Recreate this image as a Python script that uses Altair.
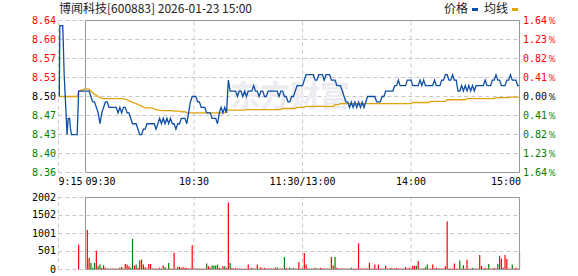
import altair as alt
import pandas as pd

# ---------------- data ----------------
TITLE = "博闻科技[600883] 2026-01-23 15:00"
LEGEND_LABELS = ["价格", "均线"]
WATERMARK = "东方财富"
PREV_CLOSE = 8.50
PCT_TICKS = [1.64, 1.23, 0.82, 0.41, 0.00, -0.41, -0.82, -1.23, -1.64]
VOL_TICKS = [0, 501, 1001, 1502, 2002]
TIME_TICKS = [-15, 0, 60, 120, 180, 240]
TIME_LABELS = ["9:15", "09:30", "10:30", "11:30/13:00", "14:00", "15:00"]
TIME_ALIGN = ["left", "left", "center", "center", "center", "right"]
GRID_MINUTES = [-15, 60, 120, 180]
SESSION = [0, 240]

# call-auction segment (minutes relative to 09:30)
PRE_MIN = [-14.5, -14.2, -12.6, -12.3, -11.8, -11.2, -10.2, -9.6, -8.8, -8.3, -7.7, -4.6, -3.8]
PRE_PRICE = [8.50, 8.63, 8.63, 8.60, 8.54, 8.50, 8.43, 8.46, 8.46, 8.44, 8.43, 8.43, 8.51]
PRE_AVG = [8.50, 8.50, 8.50, 8.50, 8.50, 8.50, 8.50, 8.50, 8.50, 8.50, 8.50, 8.50, 8.51]
PRE_VOL_MIN = [-3.8]
PRE_VOL = [685]
PRE_VOL_DIR = ["r"]

# minute prices 09:30 .. 15:00 (241 points)
PRICE = [
    8.51, 8.51, 8.51, 8.50, 8.49, 8.49, 8.48, 8.47, 8.45, 8.47,
    8.48, 8.49, 8.49, 8.48, 8.48, 8.48, 8.48, 8.48, 8.47, 8.48,
    8.47, 8.48, 8.48, 8.47, 8.47, 8.46, 8.45, 8.45, 8.45, 8.44,
    8.43, 8.43, 8.44, 8.44, 8.45, 8.45, 8.45, 8.45, 8.45, 8.44,
    8.45, 8.46, 8.45, 8.46, 8.45, 8.46, 8.45, 8.46, 8.45, 8.45,
    8.44, 8.45, 8.45, 8.46, 8.46, 8.46, 8.45, 8.47, 8.49, 8.50,
    8.50, 8.50, 8.49, 8.49, 8.48, 8.48, 8.48, 8.47, 8.47, 8.47,
    8.46, 8.46, 8.46, 8.45, 8.47, 8.48, 8.47, 8.48, 8.47, 8.53,
    8.51, 8.51, 8.51, 8.51, 8.50, 8.51, 8.51, 8.50, 8.51, 8.50,
    8.51, 8.51, 8.51, 8.52, 8.51, 8.51, 8.50, 8.51, 8.51, 8.50,
    8.50, 8.51, 8.51, 8.51, 8.51, 8.51, 8.51, 8.50, 8.51, 8.51,
    8.50, 8.50, 8.49, 8.49, 8.50, 8.50, 8.51, 8.52, 8.52, 8.52,
    8.52, 8.53, 8.54, 8.54, 8.54, 8.54, 8.54, 8.53, 8.53, 8.54,
    8.54, 8.54, 8.53, 8.54, 8.54, 8.54, 8.53, 8.53, 8.53, 8.52,
    8.52, 8.52, 8.51, 8.50, 8.49, 8.49, 8.48, 8.49, 8.48, 8.49,
    8.48, 8.49, 8.48, 8.49, 8.48, 8.49, 8.50, 8.50, 8.50, 8.50,
    8.50, 8.49, 8.49, 8.49, 8.50, 8.50, 8.51, 8.51, 8.51, 8.51,
    8.51, 8.52, 8.52, 8.53, 8.52, 8.52, 8.52, 8.52, 8.53, 8.53,
    8.53, 8.52, 8.52, 8.52, 8.52, 8.53, 8.52, 8.53, 8.52, 8.52,
    8.52, 8.52, 8.52, 8.53, 8.52, 8.52, 8.52, 8.53, 8.53, 8.54,
    8.54, 8.53, 8.53, 8.54, 8.53, 8.53, 8.51, 8.51, 8.52, 8.51,
    8.52, 8.51, 8.52, 8.51, 8.52, 8.51, 8.52, 8.52, 8.52, 8.52,
    8.52, 8.53, 8.52, 8.52, 8.52, 8.53, 8.53, 8.54, 8.53, 8.53,
    8.52, 8.52, 8.52, 8.53, 8.53, 8.54, 8.53, 8.53, 8.53, 8.52, 8.52,
]

# running average price line (241 points)
AVG = [
    8.514, 8.514, 8.513, 8.510, 8.507, 8.504, 8.502, 8.500, 8.498, 8.497,
    8.496, 8.496, 8.496, 8.496, 8.496, 8.496, 8.496, 8.496, 8.496, 8.496,
    8.496, 8.496, 8.495, 8.494, 8.492, 8.491, 8.489, 8.488, 8.487, 8.485,
    8.484, 8.482, 8.481, 8.479, 8.479, 8.479, 8.479, 8.479, 8.477, 8.476,
    8.475, 8.475, 8.474, 8.474, 8.474, 8.474, 8.474, 8.474, 8.474, 8.473,
    8.473, 8.473, 8.473, 8.472, 8.472, 8.472, 8.470, 8.470, 8.470, 8.470,
    8.470, 8.470, 8.470, 8.470, 8.470, 8.470, 8.470, 8.470, 8.470, 8.470,
    8.470, 8.470, 8.470, 8.470, 8.470, 8.470, 8.470, 8.470, 8.475, 8.475,
    8.475, 8.475, 8.475, 8.475, 8.475, 8.475, 8.475, 8.475, 8.475, 8.476,
    8.476, 8.476, 8.476, 8.476, 8.476, 8.476, 8.476, 8.476, 8.476, 8.476,
    8.476, 8.476, 8.476, 8.476, 8.476, 8.476, 8.476, 8.476, 8.476, 8.478,
    8.478, 8.478, 8.478, 8.478, 8.478, 8.478, 8.478, 8.480, 8.480, 8.480,
    8.480, 8.480, 8.482, 8.482, 8.482, 8.482, 8.482, 8.482, 8.482, 8.482,
    8.482, 8.482, 8.482, 8.482, 8.482, 8.482, 8.482, 8.482, 8.485, 8.485,
    8.485, 8.487, 8.487, 8.487, 8.487, 8.487, 8.487, 8.487, 8.487, 8.487,
    8.487, 8.487, 8.487, 8.487, 8.487, 8.487, 8.487, 8.487, 8.487, 8.487,
    8.487, 8.487, 8.487, 8.487, 8.487, 8.487, 8.487, 8.487, 8.487, 8.487,
    8.487, 8.487, 8.487, 8.487, 8.487, 8.487, 8.487, 8.487, 8.487, 8.487,
    8.487, 8.489, 8.489, 8.489, 8.489, 8.489, 8.489, 8.489, 8.489, 8.489,
    8.489, 8.491, 8.491, 8.491, 8.491, 8.491, 8.491, 8.491, 8.491, 8.491,
    8.494, 8.494, 8.494, 8.494, 8.494, 8.494, 8.494, 8.494, 8.494, 8.494,
    8.494, 8.496, 8.496, 8.496, 8.496, 8.496, 8.496, 8.496, 8.496, 8.496,
    8.496, 8.496, 8.496, 8.496, 8.496, 8.496, 8.496, 8.498, 8.498, 8.498,
    8.498, 8.498, 8.498, 8.498, 8.498, 8.499, 8.499, 8.499, 8.499, 8.499, 8.499,
]

# minute volume (lots), 241 points
VOL = [
    0, 1096, 320, 183, 46, 183, 520, 91, 137, 46,
    119, 46, 27, 27, 27, 27, 27, 27, 27, 46,
    73, 27, 155, 137, 91, 46, 850, 110, 137, 46,
    247, 274, 137, 64, 27, 155, 155, 27, 27, 27,
    27, 46, 27, 110, 64, 27, 183, 27, 27, 466,
    27, 73, 73, 46, 64, 46, 46, 27, 27, 676,
    27, 27, 27, 27, 27, 27, 27, 164, 91, 46,
    110, 110, 110, 137, 46, 27, 91, 91, 46, 1862,
    183, 46, 27, 46, 27, 27, 27, 27, 27, 27,
    137, 27, 46, 27, 27, 137, 27, 64, 27, 46,
    27, 27, 27, 27, 27, 46, 64, 27, 27, 27,
    347, 46, 27, 55, 27, 46, 27, 27, 210, 27,
    27, 456, 137, 27, 27, 27, 27, 46, 27, 27,
    46, 27, 27, 27, 27, 27, 347, 110, 347, 46,
    27, 27, 27, 27, 27, 27, 27, 46, 27, 27,
    27, 730, 27, 27, 27, 27, 27, 183, 27, 27,
    137, 27, 137, 27, 27, 27, 101, 27, 27, 46,
    27, 27, 46, 27, 27, 27, 27, 73, 27, 46,
    27, 101, 101, 101, 237, 27, 27, 27, 64, 137,
    27, 27, 137, 27, 46, 27, 27, 27, 27, 91,
    1342, 27, 27, 27, 164, 27, 27, 247, 27, 119,
    27, 274, 27, 27, 46, 27, 27, 27, 402, 101,
    27, 46, 27, 155, 27, 27, 46, 27, 155, 383,
    301, 46, 402, 292, 27, 27, 137, 27, 46, 27, 520,
]
# r = up minute (red), g = down minute (green)
VOL_DIR = (
    "rrrgggrggr" "rrrgrrrgrr" "grrrrggrgr" "rgrrrrrgrr" "rrgrgrgrrr"
    "rrrgrrrrrr" "rrgrrrrgrr" "ggggrrrgrr" "grrrrgrrrr" "rrrrgrrrrr"
    "rrrrrrgrrr" "grrgrgrrrr" "rrrrrrrgrr" "rrrrrrrrgr" "rrrrrrrgrr"
    "rrrrrrrrrr" "rrrrrrrrrr" "rrrrrrrrrr" "rrrgrrrrgg" "rrrrrrrrrr"
    "rrrrrrrgrg" "rrrrgrrrrr" "rrrgrrrrgr" "rrrrrrgrrrg"
)

assert len(PRICE) == 241 and len(AVG) == 241 and len(VOL) == 241 and len(VOL_DIR) == 241

# ---------------- styles ----------------
UP = "#ff0000"
DOWN = "#008000"
FLAT = "#000000"
PRICE_C = "#0c4ea6"
AVG_C = "#e2a20c"
GRID = "#c8c8c8"
BORDER = "#999999"
NUMFONT = "DejaVu Sans Mono"
CJKFONT = "Noto Sans CJK SC"

p_lo = PREV_CLOSE * (1 - PCT_TICKS[0] / 100)
p_hi = PREV_CLOSE * (1 + PCT_TICKS[0] / 100)

X_SCALE = alt.Scale(domain=[TIME_TICKS[0], TIME_TICKS[-1]], range=[58.375, 519.5], nice=False, zero=False)
P_SCALE = alt.Scale(domain=[p_lo, p_hi], range=[172.5, 20.5], nice=False, zero=False)
V_SCALE = alt.Scale(domain=[VOL_TICKS[0], VOL_TICKS[-1]], range=[269.5, 197.5], nice=False, zero=False)


def X(f):
    return alt.X(f, type="quantitative", scale=X_SCALE, axis=None)


def YP(f):
    return alt.Y(f, type="quantitative", scale=P_SCALE, axis=None)


def YV(f):
    return alt.Y(f, type="quantitative", scale=V_SCALE, axis=None)


def sign_color(p):
    return UP if p > 0 else (DOWN if p < 0 else FLAT)


tick_prices = [PREV_CLOSE * (1 + p / 100) for p in PCT_TICKS]
ptick_df = pd.DataFrame({
    "p": tick_prices,
    "lbl": [f"{v:.2f}" for v in tick_prices],
    "pct": [f"{abs(p):.2f}％" for p in PCT_TICKS],
    "col": [sign_color(p) for p in PCT_TICKS],
    "a": TIME_TICKS[0],
    "b": TIME_TICKS[-1],
})
vtick_df = pd.DataFrame({
    "v": VOL_TICKS,
    "lbl": [str(v) for v in VOL_TICKS],
    "a": TIME_TICKS[0],
    "b": TIME_TICKS[-1],
})
vgrid_df = pd.DataFrame({
    "m": GRID_MINUTES, "lo": p_lo, "hi": p_hi, "vlo": VOL_TICKS[0], "vhi": VOL_TICKS[-1],
})
box_df = pd.DataFrame({
    "a": [SESSION[0]], "b": [SESSION[1]], "lo": [p_lo], "hi": [p_hi],
    "vlo": [VOL_TICKS[0]], "vhi": [VOL_TICKS[-1]],
})
line_df = pd.DataFrame({
    "m": PRE_MIN + list(range(len(PRICE))),
    "price": PRE_PRICE + PRICE,
    "avg": PRE_AVG + AVG,
})
vol_df = pd.DataFrame({
    "m": PRE_VOL_MIN + list(range(len(VOL))),
    "v": PRE_VOL + VOL,
    "d": PRE_VOL_DIR + list(VOL_DIR),
})
vol_df["z"] = 0
vol_df["col"] = vol_df["d"].map({"r": UP, "g": DOWN})
vol_df = vol_df[vol_df["v"] > 0]
time_df = pd.DataFrame({"m": TIME_TICKS, "lbl": TIME_LABELS, "al": TIME_ALIGN})
one = pd.DataFrame({"t": [TITLE]})

dash = dict(color=GRID, strokeDash=[4, 3], strokeWidth=1)

# grids
g_h_main = alt.Chart(ptick_df).mark_rule(**dash).encode(x=X("a"), x2="b", y=YP("p"))
g_v_main = alt.Chart(vgrid_df).mark_rule(**dash).encode(x=X("m"), y=YP("lo"), y2="hi")
g_h_vol = alt.Chart(vtick_df).mark_rule(**dash).encode(x=X("a"), x2="b", y=YV("v"))
g_v_vol = alt.Chart(vgrid_df).mark_rule(**dash).encode(x=X("m"), y=YV("vlo"), y2="vhi")

# watermark
wm = alt.Chart(pd.DataFrame({"t": [WATERMARK]})).mark_text(
    font=CJKFONT, fontSize=30, fontWeight="bold", color="#ececf0", align="center", baseline="middle"
).encode(text="t:N", x=alt.value(290), y=alt.value(97))

# lines
avg_line = alt.Chart(line_df).mark_line(color=AVG_C, strokeWidth=1.3).encode(x=X("m"), y=YP("avg"))
price_line = alt.Chart(line_df).mark_line(color=PRICE_C, strokeWidth=1.3).encode(x=X("m"), y=YP("price"))

# volume bars
bars = alt.Chart(vol_df).mark_rule(strokeWidth=1.2).encode(
    x=X("m"), y=YV("v"), y2="z", color=alt.Color("col:N", scale=None)
)

# borders
box_main = alt.Chart(box_df).mark_rect(fillOpacity=0, stroke=BORDER, strokeWidth=1).encode(
    x=X("a"), x2="b", y=YP("lo"), y2="hi"
)
box_vol = alt.Chart(box_df).mark_rect(fillOpacity=0, stroke=BORDER, strokeWidth=1).encode(
    x=X("a"), x2="b", y=YV("vlo"), y2="vhi"
)

# axis labels
lbl_left = alt.Chart(ptick_df).mark_text(align="right", baseline="middle", font=NUMFONT, fontSize=10).encode(
    x=alt.value(56), y=YP("p"), text="lbl:N", color=alt.Color("col:N", scale=None)
)
lbl_right = alt.Chart(ptick_df).mark_text(align="left", baseline="middle", font=NUMFONT, fontSize=10).encode(
    x=alt.value(523), y=YP("p"), text="pct:N", color=alt.Color("col:N", scale=None)
)
lbl_vol = alt.Chart(vtick_df).mark_text(align="right", baseline="middle", font=NUMFONT, fontSize=10, color="#000").encode(
    x=alt.value(56), y=YV("v"), text="lbl:N"
)
time_layers = []
for al, dx in (("left", 0), ("center", 0), ("right", 1.5)):
    time_layers.append(
        alt.Chart(time_df).transform_filter(alt.datum.al == al).mark_text(
            align=al, baseline="middle", font=NUMFONT, fontSize=10, color="#000", dx=dx
        ).encode(x=X("m"), y=alt.value(182), text="lbl:N")
    )

# title and legend
title = alt.Chart(one).mark_text(align="left", baseline="middle", font=CJKFONT, fontSize=12, color="#222").encode(
    text="t:N", x=alt.value(59), y=alt.value(9)
)
leg_price = alt.Chart(pd.DataFrame({"t": [LEGEND_LABELS[0]]})).mark_text(
    align="right", baseline="middle", font=CJKFONT, fontSize=12, color="#222"
).encode(text="t:N", x=alt.value(468), y=alt.value(9))
leg_price_sw = alt.Chart(pd.DataFrame({"t": [LEGEND_LABELS[0]]})).mark_rect(color=PRICE_C).encode(
    x=alt.value(472), x2=alt.value(478), y=alt.value(8), y2=alt.value(11)
)
leg_avg = alt.Chart(pd.DataFrame({"t": [LEGEND_LABELS[1]]})).mark_text(
    align="right", baseline="middle", font=CJKFONT, fontSize=12, color="#222"
).encode(text="t:N", x=alt.value(508), y=alt.value(9))
leg_avg_sw = alt.Chart(pd.DataFrame({"t": [LEGEND_LABELS[1]]})).mark_rect(color=AVG_C).encode(
    x=alt.value(512), x2=alt.value(518), y=alt.value(8), y2=alt.value(11)
)

chart = alt.layer(
    g_h_main, g_v_main, g_h_vol, g_v_vol, wm,
    avg_line, price_line, bars, box_main, box_vol,
    lbl_left, lbl_right, lbl_vol, *time_layers,
    title, leg_price, leg_price_sw, leg_avg, leg_avg_sw,
).resolve_scale(y="independent").properties(
    width=578, height=276, autosize=alt.AutoSizeParams(type="none"), padding=0
).configure_view(stroke="transparent")

chart.save("out.html", embed_options={"renderer": "svg", "actions": False})
